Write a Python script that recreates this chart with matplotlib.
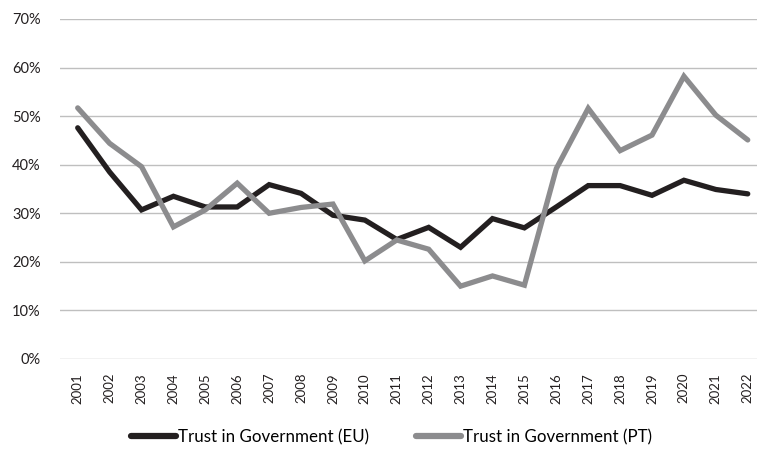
import matplotlib.pyplot as plt
from matplotlib.ticker import FuncFormatter

# Trust in government, EU average vs Portugal, 2001-2022
years = [str(y) for y in range(2001, 2023)]
trust_eu = [47.6, 38.5, 30.7, 33.5, 31.3, 31.3, 35.9, 34.1, 29.6, 28.6, 24.6,
            27.1, 23.0, 28.9, 27.0, 31.3, 35.7, 35.7, 33.7, 36.8, 34.9, 34.0]
trust_pt = [51.7, 44.4, 39.6, 27.2, 30.7, 36.2, 30.0, 31.2, 31.9, 20.2, 24.5,
            22.6, 15.0, 17.1, 15.2, 39.2, 51.6, 42.9, 46.1, 58.2, 50.2, 45.1]
series_labels = ["Trust in Government (EU)", "Trust in Government (PT)"]

plt.rcParams['font.family'] = ['Lato', 'DejaVu Sans']


def main() -> None:
    fig = plt.figure(figsize=(7.57, 4.49), dpi=100)
    ax = fig.add_axes([60 / 757, 1 - 359 / 449, 1 - 60 / 757, 340 / 449])

    x = range(len(years))
    ax.plot(x, [v / 100 for v in trust_eu], color='#231f20', lw=3.8,
            label=series_labels[0], solid_capstyle='round', solid_joinstyle='miter')
    ax.plot(x, [v / 100 for v in trust_pt], color='#8c8c8e', lw=3.8,
            label=series_labels[1], solid_capstyle='round', solid_joinstyle='miter')

    ax.set_ylim(0, 0.7)
    ax.set_yticks([i / 10 for i in range(8)])
    ax.yaxis.set_major_formatter(FuncFormatter(lambda v, _: f"{v * 100:.0f}%"))
    ax.set_xlim(-0.555, len(years) - 1 + 0.29)
    ax.set_xticks(list(x))
    ax.set_xticklabels(years, rotation=90)

    ax.grid(axis='y', color='#bfbfbf', lw=1)
    ax.set_axisbelow(True)
    for s in ax.spines.values():
        s.set_visible(False)
    ax.tick_params(axis='y', length=0, pad=14, labelsize=10.5, colors='#231f20')
    ax.tick_params(axis='x', length=0, pad=10, labelsize=9.5, colors='#231f20')

    leg = fig.legend(loc='center', bbox_to_anchor=(0.517, 0.027), ncol=2, frameon=False,
                     fontsize=12.2, handlelength=2.65, handletextpad=0.1, columnspacing=2.8)
    for line in leg.get_lines():
        line.set_linewidth(4.5)

    fig.savefig("out.png", dpi=100)


if __name__ == '__main__':
    main()
